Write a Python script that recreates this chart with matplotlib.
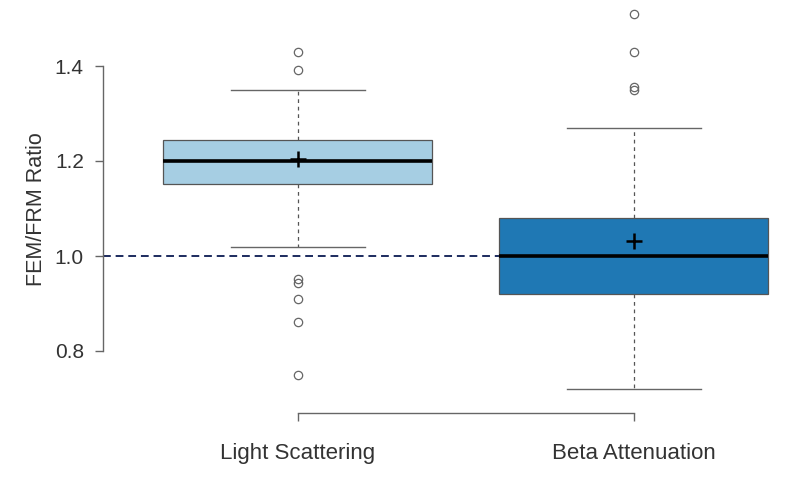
import matplotlib
matplotlib.use('Agg')
import matplotlib.pyplot as plt

plt.rcParams['font.family'] = ['Liberation Sans', 'DejaVu Sans']

groups = ['Light Scattering', 'Beta Attenuation']
medians = [1.200, 1.000]
q1 = [1.152, 0.920]
q3 = [1.244, 1.080]
whis_lo = [1.019, 0.720]
whis_hi = [1.350, 1.269]
means = [1.204, 1.032]
outliers = [
    [1.429, 1.392, 0.952, 0.943, 0.909, 0.861, 0.750],
    [1.509, 1.429, 1.356, 1.349],
]
box_colors = ['#a6cee3', '#1f78b4']
ref_line = 1.0

stats = []
for i, g in enumerate(groups):
    stats.append({'label': g, 'med': medians[i], 'q1': q1[i], 'q3': q3[i],
                  'whislo': whis_lo[i], 'whishi': whis_hi[i],
                  'mean': means[i], 'fliers': outliers[i]})

fig = plt.figure(figsize=(8, 4.8), dpi=100)
ax = fig.add_axes([103/800, 67/480, 697/800, 413/480])
ax.set_xlim(0.42, 0.42 + 697/336)
ax.set_ylim(1.0 - 157/475, 1.0 + 256/475)

# reference line, under the boxes
ax.plot([0.42, 2.4], [ref_line, ref_line], color='#1c2b5e', lw=1.4,
        ls=(0, (4, 2.5)), zorder=1)

bp = ax.bxp(stats, positions=[1, 2], widths=0.8, patch_artist=True,
            showmeans=True, showfliers=True,
            boxprops=dict(edgecolor='#555555', linewidth=0.9),
            medianprops=dict(color='black', linewidth=2.6),
            whiskerprops=dict(color='#555555', linewidth=0.9, ls=(0, (3, 3))),
            capprops=dict(color='#666666', linewidth=1.0),
            meanprops=dict(marker='+', markersize=12, markeredgewidth=1.8,
                           markeredgecolor='black'),
            flierprops=dict(marker='o', markersize=6, markerfacecolor='none',
                            markeredgecolor='#666666', markeredgewidth=0.9))
for c in bp['caps']:
    x0, x1 = c.get_xdata()
    mid = (x0 + x1) / 2
    c.set_xdata([mid - 0.2, mid + 0.2])
for patch, col in zip(bp['boxes'], box_colors):
    patch.set_facecolor(col)
    patch.set_zorder(2)
for m in bp['means']:
    m.set_zorder(5)

for s in ['top', 'right']:
    ax.spines[s].set_visible(False)
ax.spines['left'].set_bounds(0.8, 1.4)
ax.spines['bottom'].set_bounds(1, 2)
for s in ['left', 'bottom']:
    ax.spines[s].set_color('#666666')
    ax.spines[s].set_linewidth(1.0)

ax.set_yticks([0.8, 1.0, 1.2, 1.4])
ax.set_yticklabels(['0.8', '1.0', '1.2', '1.4'])
ax.set_xticks([1, 2])
ax.set_xticklabels(groups)
ax.tick_params(axis='both', length=5.8, width=1.0, color='#666666',
               labelcolor='#333333')
ax.tick_params(axis='y', pad=8, labelsize=15)
ax.tick_params(axis='x', pad=16, labelsize=16)
ax.set_ylabel('FEM/FRM Ratio', fontsize=15.5, color='#333333')
ax.yaxis.set_label_coords(-56/697, (413 - 209) / 413)

fig.savefig('out.png', dpi=100)
